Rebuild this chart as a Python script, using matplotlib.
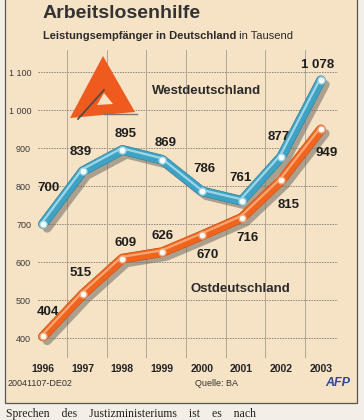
import matplotlib.pyplot as plt
import matplotlib.patheffects as pe
from matplotlib.patches import Polygon, Rectangle
from matplotlib.lines import Line2D

# data (Leistungsempfänger in Tausend)
years = [1996, 1997, 1998, 1999, 2000, 2001, 2002, 2003]
west = [700, 839, 895, 869, 786, 761, 877, 1078]
ost = [404, 515, 609, 626, 670, 716, 815, 949]
y_ticks = [400, 500, 600, 700, 800, 900, 1000, 1100]

# label offsets in pixels (dx, dy)
west_off = [(5, 36), (-2, 19), (3, 16), (3, 17), (3, 22), (-1, 23), (-3, 20), (-3, 15)]
ost_off = [(5, 24), (-2, 21), (3, 16), (0, 16), (6, -20), (6, -20), (7, -25), (6, -24)]

W, H = 364, 420
plt.rcParams['font.family'] = ['Liberation Sans', 'DejaVu Sans']

BLUE = '#3ea2c4'
BLUE_HI = '#9fd6e6'
ORANGE = '#f0641e'
ORANGE_HI = '#f9a775'
BG = '#f6e2c4'


def px(x, y):
    # pixel position (from top-left) -> figure fraction
    return (x / W, 1 - y / H)


fig = plt.figure(figsize=(W / 100, H / 100), dpi=100)
fig.patch.set_facecolor('#f4efe6')

# framed box
x0, y0 = px(5, 403)
fig.add_artist(Rectangle((x0, y0), 352 / W, 1.1 - y0, transform=fig.transFigure,
                         facecolor=BG, edgecolor='#555555', lw=0.9, zorder=0))

ax = fig.add_axes([38 / W, 1 - 358 / H, 300 / W, 308 / H])
ax.set_facecolor('none')
ax.set_xlim(1995.874, 2003.429)
ax.set_ylim(347.4, 1157.9)
for s in ax.spines.values():
    s.set_visible(False)

# grid
for y in y_ticks:
    ax.axhline(y, color='#8c8478', lw=0.7, ls=(0, (1.5, 1.2)), zorder=1)
for yr in years[:-1]:
    ax.axvline(yr + 0.6, color='#a89e90', lw=0.6, zorder=1)

ax.set_yticks(y_ticks)
ax.set_yticklabels([f"{v:,}".replace(',', ' ') for v in y_ticks], fontsize=6.5, color='#3a3a3a')
ax.set_xticks(years)
ax.set_xticklabels([str(y) for y in years], fontsize=7.5, fontweight='bold', color='#222222')
ax.tick_params(axis='y', length=0, pad=5)
ax.tick_params(axis='x', length=0, pad=4)

# BA logo
fig.add_artist(Polygon([px(103, 56), px(70, 118), px(135, 112)], closed=True,
                       transform=fig.transFigure, facecolor='#ef5a1e', edgecolor='none', zorder=1))
fig.add_artist(Polygon([px(104, 93), px(97, 105), px(113, 104)], closed=True,
                       transform=fig.transFigure, facecolor=BG, edgecolor='none', zorder=1))
fig.add_artist(Line2D([px(78, 119)[0], px(104, 90)[0]], [px(78, 119)[1], px(104, 90)[1]],
                      transform=fig.transFigure, color='#4a4a4a', lw=1.2, zorder=1))
fig.add_artist(Line2D([px(104, 114)[0], px(137, 114)[0]], [px(104, 114)[1], px(137, 114)[1]],
                      transform=fig.transFigure, color='#777777', lw=1.0, zorder=1))


def tube(vals, color, hi, edge):
    ax.plot(years, vals, color=color, lw=6.5, solid_capstyle='round', solid_joinstyle='round',
            zorder=3,
            path_effects=[pe.SimpleLineShadow(offset=(3, -3), shadow_color='#6e6a62', alpha=0.55),
                          pe.Stroke(linewidth=7, foreground=edge),
                          pe.Normal(),
                          pe.Stroke(linewidth=1.6, foreground=hi, offset=(-0.6, 1.2))])
    ax.plot(years, vals, ls='none', marker='o', ms=5, mfc='white', mec=hi, mew=1.0, zorder=4)


tube(west, BLUE, BLUE_HI, '#2f6f84')
tube(ost, ORANGE, ORANGE_HI, '#b04a14')

for x, v, (dx, dy) in zip(years, west, west_off):
    ax.annotate(f"{v:,}".replace(',', ' '), (x, v), xytext=(dx, dy), textcoords='offset pixels',
                ha='center', va='center', fontsize=9.5, fontweight='bold', color='#1e1e1e', zorder=5)
for x, v, (dx, dy) in zip(years, ost, ost_off):
    ax.annotate(f"{v:,}".replace(',', ' '), (x, v), xytext=(dx, dy), textcoords='offset pixels',
                ha='center', va='center', fontsize=9.5, fontweight='bold', color='#1e1e1e', zorder=5)

# series names
fig.text(*px(207, 91), 'Westdeutschland', ha='center', va='center', fontsize=9.5,
         fontweight='bold', color='#2a2a2a')
fig.text(*px(240, 289), 'Ostdeutschland', ha='center', va='center', fontsize=9.5,
         fontweight='bold', color='#2a2a2a')

# titles
fig.text(*px(43, 13), 'Arbeitslosenhilfe', ha='left', va='center', fontsize=14,
         fontweight='bold', color='#333333')
t1 = fig.text(*px(43, 36), 'Leistungsempfänger in Deutschland', ha='left', va='center',
              fontsize=8, fontweight='bold', color='#2a2a2a')
ax.annotate(' in Tausend', xy=(1, 0), xycoords=t1, ha='left', va='bottom', fontsize=8,
            color='#2a2a2a', annotation_clip=False)

# footer
fig.text(*px(8, 383), '20041107-DE02', ha='left', va='center', fontsize=6.5, color='#333333')
fig.text(*px(195, 383), 'Quelle: BA', ha='left', va='center', fontsize=6.5, color='#333333')
fig.text(*px(350, 383), 'AFP', ha='right', va='center', fontsize=9, fontweight='bold',
         style='italic', color='#2c4a9a')

# start of the newspaper text below the box
fig.text(*px(6, 420), 'Sprechen    des    Justizministeriums    ist    es    nach',
         ha='left', va='bottom', fontsize=8.5, family=['Liberation Serif', 'DejaVu Serif'],
         color='#222222')

plt.savefig('out.png', dpi=100, facecolor=fig.get_facecolor())
